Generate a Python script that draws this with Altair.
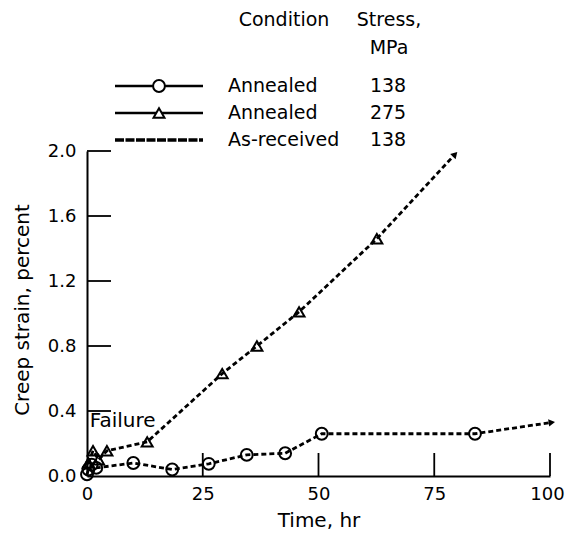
import math
import altair as alt
import pandas as pd

# ---- data ----
ann138_time = [0.0, 0.3, 1.0, 2.0, 10.0, 18.4, 26.3, 34.5, 42.8, 50.7, 83.8]
ann138_strain = [0.01, 0.04, 0.07, 0.05, 0.08, 0.04, 0.075, 0.13, 0.14, 0.26, 0.26]
ann138_end = (100.4, 0.33)

ann275_time = [0.3, 1.3, 2.5, 4.3, 13.0, 29.2, 36.7, 45.8, 62.6]
ann275_strain = [0.08, 0.155, 0.10, 0.155, 0.21, 0.63, 0.80, 1.01, 1.46]
ann275_end = (79.5, 1.98)

legend_condition = ["Annealed", "Annealed", "As-received"]
legend_stress = ["138", "275", "138"]

x_ticks = [0, 25, 50, 75, 100]
y_ticks = [0.0, 0.4, 0.8, 1.2, 1.6, 2.0]

# ---- layout ----
W, H = 463, 325
TOP = 143
FONT = "DejaVu Sans"
px_x = W / 100.0
px_y = H / 2.0

def arrow_angle(t, s, end):
    dx = (end[0] - t[-1]) * px_x
    dy = (end[1] - s[-1]) * px_y
    return math.degrees(math.atan2(dx, dy))

x_scale = alt.Scale(domain=[0, 100], nice=False, zero=False)
y_scale = alt.Scale(domain=[0, 2], nice=False, zero=False)

line_df = pd.concat([
    pd.DataFrame({"t": ann138_time + [ann138_end[0]], "s": ann138_strain + [ann138_end[1]], "series": "a138",
                  "o": list(range(len(ann138_time) + 1))}),
    pd.DataFrame({"t": ann275_time + [ann275_end[0]], "s": ann275_strain + [ann275_end[1]], "series": "a275",
                  "o": list(range(len(ann275_time) + 1))}),
])

X = alt.X("t:Q", scale=x_scale,
          axis=alt.Axis(values=x_ticks, grid=False, ticks=False, tickSize=0, labelPadding=9,
                        labelFontSize=18, labelFont=FONT, labelColor="black",
                        labelOffset={"condition": {"test": "datum.value == 100", "value": -3}, "value": 0},
                        domainColor="black", domainWidth=2, labelFlush=False,
                        title="Time, hr", titleFont=FONT, titleFontSize=20, titleFontWeight="normal",
                        titleColor="black", titleX=W / 2, titleY=50, titleBaseline="alphabetic",
                        titleAlign="center"))
Y = alt.Y("s:Q", scale=y_scale,
          axis=alt.Axis(values=y_ticks, format=".1f", grid=False, ticks=False, tickSize=0, labelPadding=11,
                        labelFontSize=18, labelFont=FONT, labelColor="black",
                        domainColor="black", domainWidth=2, labelFlush=False,
                        title="Creep strain, percent", titleFont=FONT, titleFontSize=20,
                        titleFontWeight="normal", titleColor="black", titleX=-65, titleY=H / 2 - 4,
                        titleBaseline="middle", titleAlign="center", titleAngle=270))

lines = alt.Chart(line_df).mark_line(color="black", strokeWidth=2.8, strokeDash=[5, 3]).encode(
    x=X, y=Y, detail="series:N", order="o:Q")

circ = alt.Chart(pd.DataFrame({"t": ann138_time, "s": ann138_strain})).mark_point(
    shape="circle", size=140, filled=False, color="black", strokeWidth=2, opacity=1).encode(
    x=alt.X("t:Q", scale=x_scale), y=alt.Y("s:Q", scale=y_scale))

tri = alt.Chart(pd.DataFrame({"t": ann275_time, "s": ann275_strain})).mark_point(
    shape="triangle-up", size=120, filled=False, color="black", strokeWidth=2, opacity=1).encode(
    x=alt.X("t:Q", scale=x_scale), y=alt.Y("s:Q", scale=y_scale))

arrows_df = pd.DataFrame({
    "t": [ann138_end[0], ann275_end[0]],
    "s": [ann138_end[1], ann275_end[1]],
    "ang": [arrow_angle(ann138_time, ann138_strain, ann138_end),
            arrow_angle(ann275_time, ann275_strain, ann275_end)],
})
arrows = alt.Chart(arrows_df).mark_point(shape="triangle-up", size=55, filled=True, color="black",
                                          opacity=1).encode(
    x=alt.X("t:Q", scale=x_scale), y=alt.Y("s:Q", scale=y_scale), angle=alt.Angle("ang:Q", scale=None))

# inward ticks
xt = alt.Chart(pd.DataFrame({"t": x_ticks[1:]})).mark_rule(color="black", strokeWidth=1.8).encode(
    x=alt.X("t:Q", scale=x_scale), y=alt.value(H), y2=alt.value(H - 23))
yt = alt.Chart(pd.DataFrame({"s": y_ticks[1:]})).mark_rule(color="black", strokeWidth=1.8).encode(
    y=alt.Y("s:Q", scale=y_scale), x=alt.value(0), x2=alt.value(24))

failure = alt.Chart(pd.DataFrame({"t": [0.6], "s": [0.30], "txt": ["Failure"]})).mark_text(
    align="left", baseline="alphabetic", font=FONT, fontSize=20, color="black").encode(
    x=alt.X("t:Q", scale=x_scale), y=alt.Y("s:Q", scale=y_scale), text="txt:N")

# ---- legend (drawn) ----
leg = pd.DataFrame({"cond": legend_condition, "stress": legend_stress,
                    "py": [-65 + 27 * i for i in range(3)]})
leg_cond = alt.Chart(leg).mark_text(align="left", baseline="middle", font=FONT, fontSize=19,
                                    color="black").encode(
    x=alt.value(141), y=alt.Y("py:Q", scale=None), text="cond:N")
leg_stress = alt.Chart(leg).mark_text(align="center", baseline="middle", font=FONT, fontSize=19,
                                      color="black").encode(
    x=alt.value(301), y=alt.Y("py:Q", scale=None), text="stress:N")
head = pd.DataFrame({"txt": ["Condition", "Stress,", "MPa"], "px": [197, 302, 302],
                     "py": [-131, -131, -103]})
leg_head = alt.Chart(head).mark_text(align="center", baseline="middle", font=FONT, fontSize=19,
                                     color="black").encode(
    x=alt.X("px:Q", scale=None), y=alt.Y("py:Q", scale=None), text="txt:N")

leg_solid = alt.Chart(leg.iloc[:2]).mark_rule(color="black", strokeWidth=2.6).encode(
    x=alt.value(28), x2=alt.value(116), y=alt.Y("py:Q", scale=None))
leg_dash = alt.Chart(leg.iloc[2:]).mark_rule(color="black", strokeWidth=3.4, strokeDash=[9, 1.5]).encode(
    x=alt.value(28), x2=alt.value(116), y=alt.Y("py:Q", scale=None))
leg_c = alt.Chart(leg.iloc[:1]).mark_point(shape="circle", size=140, filled=True, fill="white",
                                           stroke="black", strokeWidth=2, opacity=1).encode(
    x=alt.value(72), y=alt.Y("py:Q", scale=None))
leg_t = alt.Chart(leg.iloc[1:2]).mark_point(shape="triangle-up", size=120, filled=True, fill="white",
                                            stroke="black", strokeWidth=2, opacity=1).encode(
    x=alt.value(72), y=alt.Y("py:Q", scale=None))

chart = alt.layer(
    lines, circ, tri, arrows, xt, yt, failure,
    leg_solid, leg_dash, leg_c, leg_t, leg_cond, leg_stress, leg_head,
).properties(
    width=W, height=H,
    autosize=alt.AutoSizeParams(type="none"),
    padding={"left": 79, "top": TOP, "right": 15, "bottom": 55},
    background="white",
).configure_view(stroke=None)

chart.save("out.html", embed_options={"renderer": "svg", "actions": False})
